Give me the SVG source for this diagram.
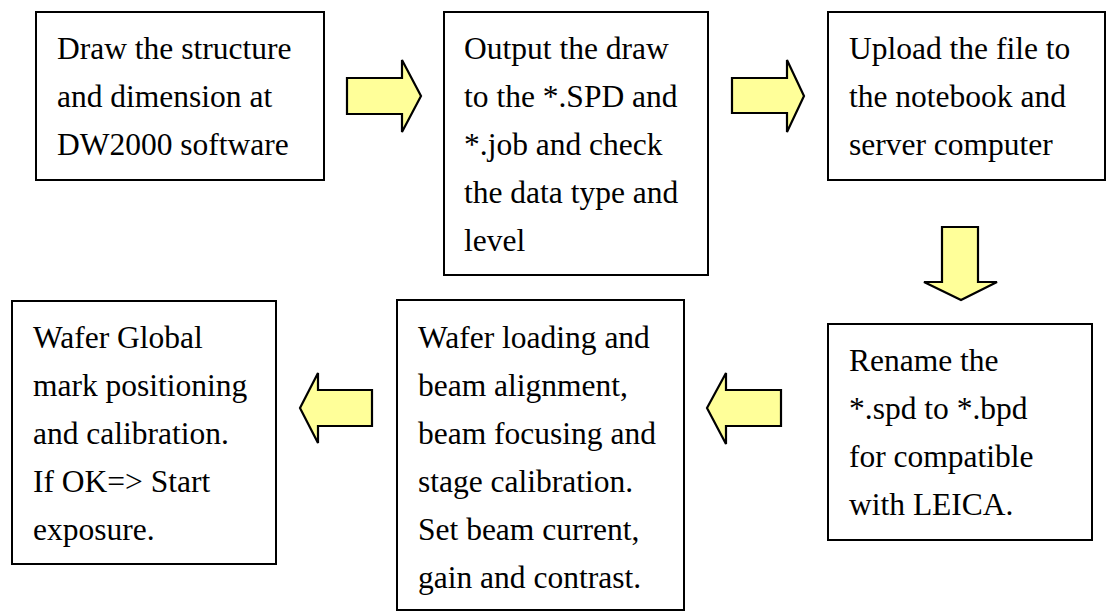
<svg xmlns="http://www.w3.org/2000/svg" width="1107" height="612" viewBox="0 0 1107 612">
<style>
.box{fill:#ffffff;stroke:#000000;stroke-width:2}
.arrow{fill:#ffff99;stroke:#000000;stroke-width:2.2;stroke-linejoin:miter}
.t{font-family:'Liberation Serif',serif;font-size:31.5px;fill:#000000}
</style>
<rect width="1107" height="612" fill="#ffffff"/>
<g id="n1">
<rect class="box" x="36" y="12" width="288" height="168"/>
<g class="t" font-family="Liberation Serif, serif">
<text x="57" y="59">Draw the structure</text>
<text x="57" y="107">and dimension at</text>
<text x="57" y="155">DW2000 software</text>
</g>
</g>
<g id="n2">
<rect class="box" x="444" y="12" width="264" height="263"/>
<g class="t" font-family="Liberation Serif, serif">
<text x="464" y="59">Output the draw</text>
<text x="464" y="107">to the *.SPD and</text>
<text x="464" y="155">*.job and check</text>
<text x="464" y="203">the data type and</text>
<text x="464" y="251">level</text>
</g>
</g>
<g id="n3">
<rect class="box" x="828" y="12" width="277" height="168"/>
<g class="t" font-family="Liberation Serif, serif">
<text x="849" y="59">Upload the file to</text>
<text x="849" y="107">the notebook and</text>
<text x="849" y="155">server computer</text>
</g>
</g>
<g id="n4">
<rect class="box" x="828" y="324" width="264" height="216"/>
<g class="t" font-family="Liberation Serif, serif">
<text x="849" y="371">Rename the</text>
<text x="849" y="419">*.spd to *.bpd</text>
<text x="849" y="467">for compatible</text>
<text x="849" y="515">with LEICA.</text>
</g>
</g>
<g id="n5">
<rect class="box" x="397" y="300" width="287" height="310"/>
<g class="t" font-family="Liberation Serif, serif">
<text x="418" y="348">Wafer loading and</text>
<text x="418" y="396">beam alignment,</text>
<text x="418" y="444">beam focusing and</text>
<text x="418" y="492">stage calibration.</text>
<text x="418" y="540">Set beam current,</text>
<text x="418" y="588">gain and contrast.</text>
</g>
</g>
<g id="n6">
<rect class="box" x="12" y="301" width="264" height="263"/>
<g class="t" font-family="Liberation Serif, serif">
<text x="33" y="348">Wafer Global</text>
<text x="33" y="396">mark positioning</text>
<text x="33" y="444">and calibration.</text>
<text x="33" y="492">If OK=&gt; Start</text>
<text x="33" y="540">exposure.</text>
</g>
</g>
<g id="connectors">
<polygon class="arrow" points="347,78 402,78 402,60 421,96 402,132 402,114 347,114"/>
<polygon class="arrow" points="732,78 787,78 787,60 804,96 787,132 787,113 732,113"/>
<polygon class="arrow" points="942,227 978,227 978,282 997,282 961,300 924,282 942,282"/>
<polygon class="arrow" points="781,390 726,390 726,373 707,408 726,444 726,426 781,426"/>
<polygon class="arrow" points="372,390 318,390 318,373 300,408 318,443 318,426 372,426"/>
</g>
</svg>
